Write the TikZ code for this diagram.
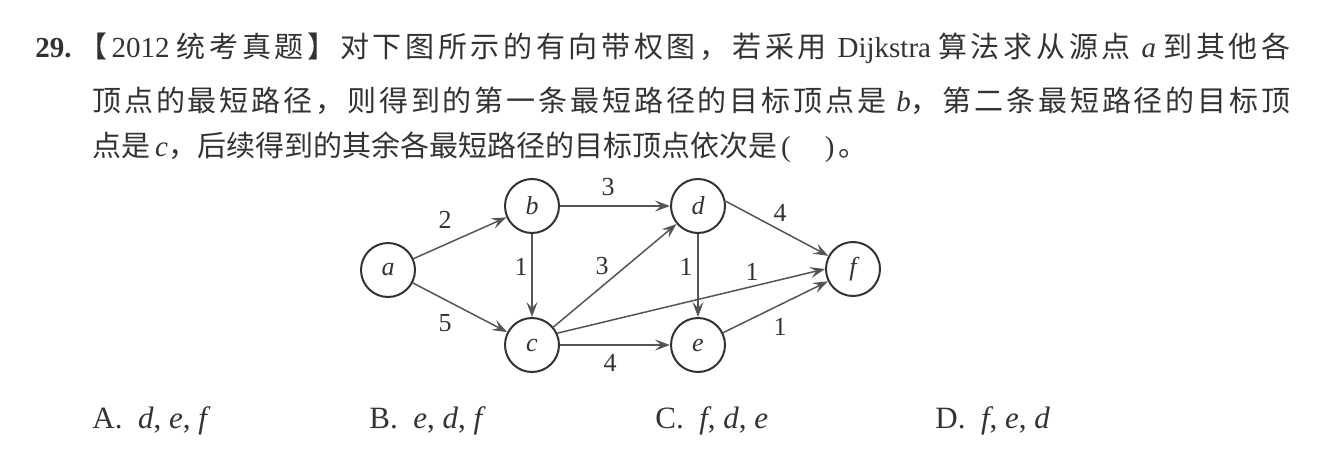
\documentclass[tikz,border=0pt]{standalone}
\usepackage{fontspec}
\setmainfont{Liberation Serif}
\newfontfamily\cjk{Noto Sans CJK SC}
\def\spreadcjk#1{{\cjk\spreadstep#1\relax}}
\def\spreadstep#1{\ifx#1\relax\else#1\hskip 0pt plus 1fil\expandafter\spreadstep\fi}
\usetikzlibrary{arrows.meta}
\definecolor{ink}{HTML}{333333}
\definecolor{edgecol}{HTML}{555555}
\begin{document}
\begin{tikzpicture}[x=0.5pt,y=-0.5pt,
  txt/.style={anchor=base west, inner sep=0pt, font=\fontsize{14.5}{20}\selectfont, text=ink},
  opt/.style={anchor=base west, inner sep=0pt, font=\fontsize{15.5}{20}\selectfont, text=ink},
  vtx/.style={circle, draw=ink, line width=1pt, minimum size=27pt, inner sep=0pt, font=\fontsize{13}{15}\selectfont\itshape, text=ink},
  arc/.style={draw=edgecol, line width=0.75pt, -{Stealth[length=7.5pt,width=5.5pt,inset=3pt]}},
  lbl/.style={inner sep=0pt, font=\fontsize{13}{15}\selectfont, text=ink}]
\useasboundingbox[fill=white] (0,0) rectangle (1317,466);

% question text
\node[txt] (l1) at (35,57) {\hbox to 627.5pt{\textbf{29.}\ \spreadcjk{【}2012\ \spreadcjk{统考真题】对下图所示的有向带权图，若采用}\ Dijkstra\ \spreadcjk{算法求从源点}\ \textit{a}\ {\cjk 到\hfil 其\hfil 他\hfil 各}}};
\node[txt] (l2) at (92,111) {\hbox to 599pt{\spreadcjk{顶点的最短路径，则得到的第一条最短路径的目标顶点是}\ \textit{b}{\cjk ，}\hfil\spreadcjk{第二条最短路径的目标}{\cjk 顶}}};
\node[txt] (l3) at (92,156) {{\cjk 点是}\,\textit{c}{\cjk ，后续得到的其余各最短路径的目标顶点依次是}\kern2pt(\hspace{17pt})\kern2pt{\cjk 。}};

% graph
\node[vtx] (a) at (388,270) {a};
\node[vtx] (b) at (532,206) {b};
\node[vtx] (c) at (532,345) {c};
\node[vtx] (d) at (698,206) {d};
\node[vtx] (e) at (698,345) {e};
\node[vtx] (f) at (853,269) {f};

\draw[arc] (a) -- (b);
\draw[arc] (a) -- (c);
\draw[arc] (b) -- (c);
\draw[arc] (b) -- (d);
\draw[arc] (c) -- (d);
\draw[arc] (c.25) -- (f.west);
\draw[arc] (c) -- (e);
\draw[arc] (d) -- (e);
\draw[arc] (d.10) -- (f);
\draw[arc] (e) -- (f);

\node[lbl] (w1) at (445,220) {2};
\node[lbl] (w2) at (445,323) {5};
\node[lbl] (w3) at (521,267) {1};
\node[lbl] (w4) at (608,187) {3};
\node[lbl] (w5) at (602,266) {3};
\node[lbl] (w6) at (686,267) {1};
\node[lbl] (w7) at (752,272) {1};
\node[lbl] (w8) at (780,213) {4};
\node[lbl] (w9) at (780,327) {1};
\node[lbl] (w10) at (610,363) {4};

% options
\node[opt] (oA) at (92,428) {A.\ \ \textit{d}, \textit{e}, \textit{f}};
\node[opt] (oB) at (369,428) {B.\ \ \textit{e}, \textit{d}, \textit{f}};
\node[opt] (oC) at (655,428) {C.\ \ \textit{f}, \textit{d}, \textit{e}};
\node[opt] (oD) at (935,428) {D.\ \ \textit{f}, \textit{e}, \textit{d}};
\end{tikzpicture}
\end{document}
